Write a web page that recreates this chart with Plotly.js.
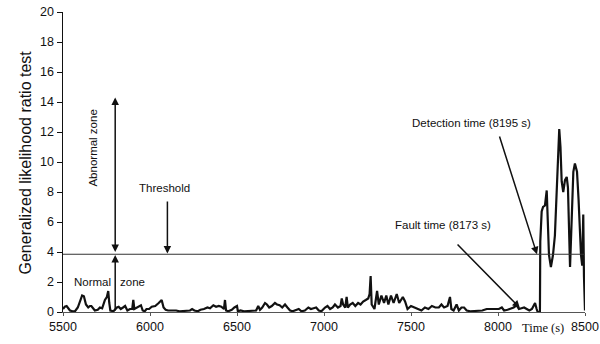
<!DOCTYPE html>
<html>
<head>
<meta charset="utf-8">
<script src="https://cdn.plot.ly/plotly-3.0.1.min.js"></script>
<style>
html,body{margin:0;padding:0;background:#fff;}
#chart{width:600px;height:344px;}
</style>
</head>
<body>
<div id="chart"></div>
<script>
// Time (s)
var timeS = [5500,5510,5521,5530,5540,5555,5569,5585,5600,5610,5620,5632,5645,5655,5663,5672,5683,5700,5712,5725,
5741,5752,5760,5766,5772,5790,5810,5820,5832,5845,5857,5870,5885,5898,5904,5910,5925,5937,5948,5958,
5970,5980,5995,6010,6030,6050,6067,6078,6090,6104,6120,6132,6150,6170,6190,6210,6230,6242,6255,6275,
6290,6310,6330,6345,6364,6380,6395,6410,6425,6431,6437,6450,6470,6485,6500,6505,6520,6540,6560,6580,
6600,6610,6622,6632,6645,6661,6672,6685,6700,6718,6730,6745,6760,6776,6790,6805,6820,6840,6855,6870,
6890,6910,6925,6940,6955,6970,6985,7006,7020,7035,7050,7063,7080,7095,7102,7110,7122,7130,7137,7150,
7165,7180,7196,7210,7225,7240,7254,7262,7268,7274,7290,7305,7315,7330,7345,7358,7370,7385,7400,7418,
7432,7453,7466,7480,7500,7520,7540,7560,7580,7600,7620,7640,7660,7675,7690,7710,7724,7732,7745,7762,
7775,7790,7805,7820,7840,7860,7880,7910,7935,7960,7985,8005,8022,8035,8055,8075,8090,8107,8120,8135,
8150,8165,8180,8195,8205,8213,8222,8228,8238,8241,8243,8251,8259,8270,8280,8287,8293,8304,8316,8327,
8337,8346,8352,8359,8366,8375,8385,8395,8402,8414,8425,8433,8442,8454,8463,8471,8477,8484,8490,8494,
8497,8500];
// Generalized likelihood ratio test statistic
var glr = [0.2,0.35,0.4,0.25,0.1,0.05,0.05,0.3,0.8,1.1,1.05,0.5,0.3,0.4,0.4,0.25,0.1,0.15,0.3,0.25,
0.8,1.0,1.4,0.6,0.1,0.05,0.3,0.35,0.2,0.3,0.4,0.1,0.2,0.2,0.8,0.2,0.3,0.4,0.45,0.1,
0.05,0.2,0.2,0.35,0.4,0.6,0.8,0.3,0.15,0.1,0.1,0.15,0.1,0.05,0.05,0.05,0.1,0.2,0.1,0.05,
0.15,0.2,0.3,0.25,0.45,0.35,0.4,0.35,0.2,0.8,0.1,0.05,0.15,0.3,0.4,0.05,0.1,0.05,0.05,0.05,
0.05,0.1,0.4,0.15,0.3,0.6,0.5,0.3,0.4,0.6,0.5,0.45,0.3,0.5,0.3,0.1,0.05,0.15,0.2,0.05,
0.1,0.3,0.2,0.25,0.3,0.1,0.05,0.3,0.4,0.2,0.3,0.5,0.3,0.4,0.9,0.5,0.3,1.0,0.3,0.5,
0.6,0.4,0.6,0.5,0.7,0.8,0.9,1.2,2.4,0.5,0.2,1.4,0.5,1.1,0.6,1.1,0.5,1.1,0.6,1.2,
0.6,1.0,0.7,0.2,0.4,0.3,0.2,0.1,0.3,0.2,0.4,0.3,0.3,0.5,0.3,0.4,1.0,0.2,0.1,0.5,
0.1,0.3,0.3,0.1,0.05,0.05,0.05,0.1,0.2,0.2,0.15,0.2,0.3,0.1,0.15,0.25,0.3,0.45,0.2,0.25,
0.3,0.2,0.1,0.2,0.4,0.6,0.2,0.0,0.0,0.0,4.7,6.7,7.0,7.1,8.1,6.3,3.8,3.0,3.8,5.1,
7.6,10.5,12.2,11.0,8.7,8.0,8.8,9.0,8.3,3.0,7.5,9.35,9.9,9.35,7.5,5.35,3.8,3.1,6.5,2.4,
0.7,0.1];
var threshold = 3.85;
var xTicks = [5500,6000,6500,7000,7500,8000,8500];
var yTicks = [0,2,4,6,8,10,12,14,16,18,20];

var font = "Arial, 'Liberation Sans', sans-serif";
var txt = {family: font, size: 11.5, color: '#111'};

var traces = [{
  x: timeS, y: glr, type: 'scatter', mode: 'lines',
  line: {color: '#111', width: 2.2}, hoverinfo: 'skip', showlegend: false
}];

function arrow(x, y, ax, ay, side) {
  return {x: x, y: y, ax: ax, ay: ay, xref: 'x', yref: 'y', axref: 'x', ayref: 'y',
    text: '', showarrow: true, arrowhead: 2, arrowsize: 1, arrowwidth: 1.5,
    arrowcolor: '#111', standoff: 0, startstandoff: 0, arrowside: side || 'end'};
}

var layout = {
  width: 600, height: 344,
  margin: {l: 63, r: 15, t: 12, b: 32},
  paper_bgcolor: '#fff', plot_bgcolor: '#fff',
  showlegend: false,
  xaxis: {
    range: [5500, 8500], tickvals: xTicks, ticktext: xTicks.map(String),
    showgrid: false, zeroline: false, showline: true, linecolor: '#555', linewidth: 1.2,
    ticks: 'outside', ticklen: 3, tickcolor: '#555', tickfont: {family: font, size: 12.5, color: '#111'}
  },
  yaxis: {
    range: [0, 20], tickvals: yTicks, ticktext: yTicks.map(String),
    showgrid: false, zeroline: false, showline: true, linecolor: '#111', linewidth: 1.5,
    ticks: 'outside', ticklen: 5, tickcolor: '#111', tickfont: {family: font, size: 12.5, color: '#111'}
  },
  shapes: [{
    type: 'line', xref: 'x', yref: 'y', x0: 5500, x1: 8500, y0: threshold, y1: threshold,
    line: {color: '#333', width: 1.2}
  }],
  annotations: [
    arrow(5800, 14.3, 5800, threshold + 0.05, 'end+start'),
    arrow(5800, threshold - 0.05, 5800, 0),
    arrow(6100, threshold + 0.05, 6100, 7.47),
    arrow(8224, threshold, 8006, 11.8),
    arrow(8126, 0.27, 7759, 4.6),
    {x: 5667, y: 10.9, xref: 'x', yref: 'y', text: 'Abnormal zone', showarrow: false, textangle: -90, font: txt},
    {x: 6086, y: 8.27, xref: 'x', yref: 'y', text: 'Threshold', showarrow: false, font: txt},
    {x: 5668, y: 2.0, xref: 'x', yref: 'y', text: 'Normal', showarrow: false, font: txt},
    {x: 5900, y: 2.0, xref: 'x', yref: 'y', text: 'zone', showarrow: false, font: txt},
    {x: 7850, y: 12.6, xref: 'x', yref: 'y', text: 'Detection time (8195 s)', showarrow: false, font: txt},
    {x: 7684, y: 5.8, xref: 'x', yref: 'y', text: 'Fault time (8173 s)', showarrow: false, font: txt},
    {x: 8259, y: -0.053, xref: 'x', yref: 'paper', yanchor: 'middle', text: 'Time (s)', showarrow: false,
      font: {family: "'Liberation Serif', 'Times New Roman', serif", size: 12.5, color: '#111'}},
    {x: -0.092, y: 0.5, xref: 'paper', yref: 'paper', text: 'Generalized likelihood ratio test',
      showarrow: false, textangle: -90, font: {family: font, size: 16, color: '#111'}}
  ]
};

Plotly.newPlot('chart', traces, layout, {staticPlot: true, displayModeBar: false});
</script>
</body>
</html>
